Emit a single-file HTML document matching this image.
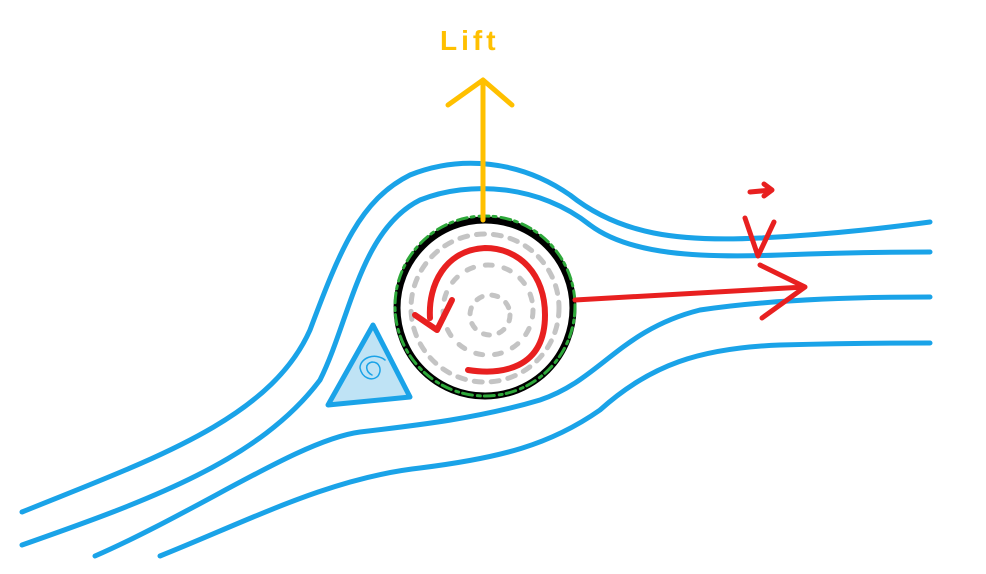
<!DOCTYPE html>
<html><head><meta charset="utf-8"><style>
html,body{margin:0;padding:0;background:#fff;width:986px;height:574px;overflow:hidden}
svg{display:block}
</style></head><body>
<svg width="986" height="574" viewBox="0 0 986 574" fill="none" stroke-linecap="round" stroke-linejoin="round">
<g stroke="#1aa3e8" stroke-width="5">
<path d="M22,512 C150,460 270,420 310,330 C340,250 360,200 410,175 C460,155 520,160 570,195 C620,235 680,242 760,238 C840,234 900,226 930,222"/>
<path d="M22,545 C150,500 260,460 320,380 C350,320 360,230 420,200 C470,180 540,185 590,225 C630,255 700,258 780,255 C860,252 900,252 930,252"/>
<path d="M95,556 C200,510 300,440 360,432 C420,425 480,418 540,400 C600,380 620,330 700,310 C780,298 880,297 930,297"/>
<path d="M160,556 C250,520 330,478 420,468 C500,458 550,445 600,410 C650,365 700,348 780,345 C860,343 900,343 930,343"/>
</g>
<path d="M328,405 L373,325 L410,397 Z" fill="#bfe3f5" stroke="#1aa3e8" stroke-width="5"/>
<path d="M372,375 C366,372 364,364 372,362 C380,362 382,370 378,376 C372,382 362,378 360,368 C360,358 375,352 385,360" stroke="#1aa3e8" stroke-width="1.5"/>
<circle cx="485" cy="308" r="88" stroke="#000" stroke-width="7"/>
<circle cx="485" cy="308" r="74" stroke="#c4c4c4" stroke-width="5" stroke-dasharray="8 9"/>
<circle cx="488" cy="310" r="45" stroke="#c4c4c4" stroke-width="5" stroke-dasharray="7 12"/>
<circle cx="490" cy="315" r="20" stroke="#c4c4c4" stroke-width="5" stroke-dasharray="6 10"/>
<circle cx="485" cy="306" r="90" stroke="#2ea83a" stroke-width="3" stroke-dasharray="10 4 3 5"/>
<path d="M468,370 C500,375 545,370 545,315 C545,275 520,248 485,248 C445,250 428,285 430,318" stroke="#e82020" stroke-width="6"/>
<path d="M415,315 L437,330 L452,300" stroke="#e82020" stroke-width="6"/>
<path d="M483,220 L483,80 M448,105 L483,80 L512,105" stroke="#ffc000" stroke-width="5"/>
<text x="440" y="50" fill="#ffc000" font-family="Liberation Sans, sans-serif" font-size="28" font-weight="bold" letter-spacing="4">Lift</text>
<path d="M575,300 L805,287 M760,265 L805,287 L762,318" stroke="#e82020" stroke-width="5"/>
<path d="M745,218 L758,256 L774,222 M750,192 L772,190 M764,184 L772,190 L764,196" stroke="#e82020" stroke-width="5"/>
</svg>
</body></html>
